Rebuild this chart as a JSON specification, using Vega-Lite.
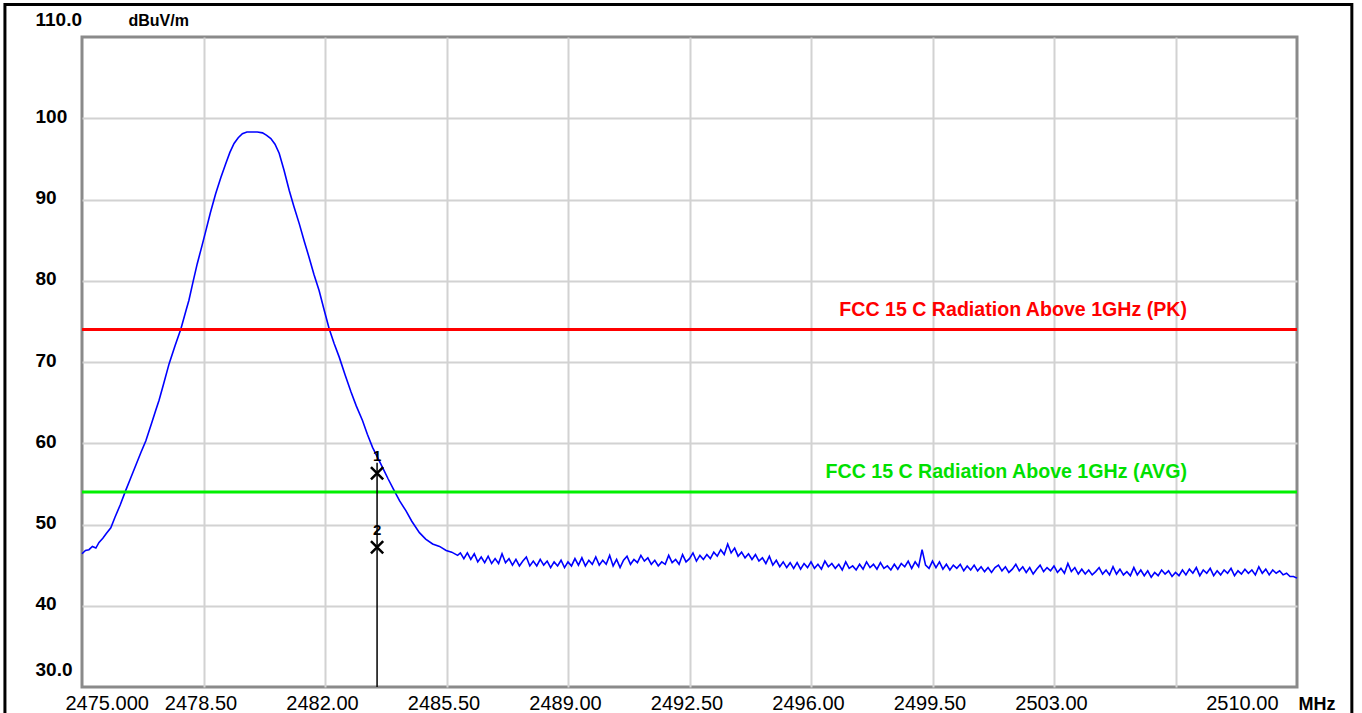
{
  "$schema": "https://vega.github.io/schema/vega-lite/v6.json",
  "autosize": {"type": "none"},
  "width": 1215,
  "height": 650,
  "padding": {"left": 82, "top": 37, "right": 65, "bottom": 26},
  "background": "white",
  "config": {"view": {"stroke": "#8a8a8a", "strokeWidth": 3}, "font": "Liberation Sans"},
  "encoding": {
    "x": {
      "field": "f", "type": "quantitative",
      "scale": {"domain": [2475, 2510], "nice": false, "zero": false},
      "axis": {
        "values": [2475, 2478.5, 2482, 2485.5, 2489, 2492.5, 2496, 2499.5, 2503, 2506.5, 2510],
        "labelExpr": "datum.value == 2475 ? '2475.000' : (datum.value == 2506.5 ? '' : format(datum.value, '.2f'))",
        "grid": true, "gridColor": "#d2d2d2", "gridWidth": 2,
        "gridOpacity": {"condition": {"test": "datum.value == 2475 || datum.value == 2510", "value": 0}, "value": 1},
        "domain": false, "ticks": false,
        "labelFlush": true, "labelFlushOffset": -16,
        "labelOffset": {"condition": {"test": "datum.value == 2475", "value": -33}, "value": -3},
        "labelOverlap": false, "labelBound": false,
        "labelFont": "Liberation Sans", "labelFontSize": 20, "labelColor": "black",
        "labelBaseline": "alphabetic", "labelPadding": 22,
        "title": "MHz", "titleFont": "Liberation Sans", "titleFontSize": 18, "titleFontWeight": "bold", "titleColor": "black",
        "titleAlign": "left", "titleBaseline": "alphabetic", "titleX": 1216, "titleY": 22, "titleAngle": 0
      }
    },
    "y": {
      "field": "v", "type": "quantitative",
      "scale": {"domain": [30, 110], "nice": false, "zero": false},
      "axis": {
        "values": [30, 40, 50, 60, 70, 80, 90, 100, 110],
        "labelExpr": "(datum.value == 30 || datum.value == 110) ? format(datum.value, '.1f') : format(datum.value, 'd')",
        "grid": true, "gridColor": "#d2d2d2", "gridWidth": 2,
        "gridOpacity": {"condition": {"test": "datum.value == 30 || datum.value == 110", "value": 0}, "value": 1},
        "domain": false, "ticks": false,
        "labelAlign": "left", "labelPadding": 47,
        "labelBaseline": {"condition": {"test": "datum.value == 30 || datum.value == 110", "value": "alphabetic"}, "value": "middle"},
        "labelOffset": {"condition": {"test": "datum.value == 30 || datum.value == 110", "value": -12}, "value": -2},
        "labelOverlap": false, "labelBound": false,
        "labelFont": "Liberation Sans", "labelFontSize": 19, "labelFontWeight": "bold", "labelColor": "black",
        "title": "dBuV/m", "titleFont": "Liberation Sans", "titleFontSize": 16, "titleFontWeight": "bold", "titleColor": "black",
        "titleAngle": 0, "titleAlign": "left", "titleBaseline": "alphabetic", "titleX": 46, "titleY": -12
      }
    }
  },
  "layer": [
    {
      "data": {"values": [{"f": 2472.78, "f2": 2511.58, "v": 114.0, "v2": 20}]},
      "mark": {"type": "rect", "fill": "white", "fillOpacity": 0, "stroke": "black", "strokeWidth": 3},
      "encoding": {"x2": {"field": "f2"}, "y2": {"field": "v2"}}
    },
    {
      "data": {"values": [
        {"f": 2475.0, "v": 46.4}, {"f": 2475.1, "v": 46.8}, {"f": 2475.2, "v": 46.9}, {"f": 2475.3, "v": 47.3}, {"f": 2475.4, "v": 47.1},
        {"f": 2475.49, "v": 47.8}, {"f": 2475.6, "v": 48.3}, {"f": 2475.7, "v": 48.9}, {"f": 2475.83, "v": 49.6}, {"f": 2475.95, "v": 50.9},
        {"f": 2476.1, "v": 52.4}, {"f": 2476.26, "v": 54.2}, {"f": 2476.4, "v": 55.7}, {"f": 2476.55, "v": 57.3}, {"f": 2476.7, "v": 58.9},
        {"f": 2476.84, "v": 60.3}, {"f": 2477.0, "v": 62.4}, {"f": 2477.12, "v": 64.0}, {"f": 2477.22, "v": 65.3}, {"f": 2477.35, "v": 67.3},
        {"f": 2477.51, "v": 69.8}, {"f": 2477.68, "v": 72.0}, {"f": 2477.85, "v": 74.1}, {"f": 2478.0, "v": 76.4}, {"f": 2478.08, "v": 77.6},
        {"f": 2478.2, "v": 79.9}, {"f": 2478.32, "v": 82.1}, {"f": 2478.45, "v": 84.2}, {"f": 2478.57, "v": 86.2}, {"f": 2478.7, "v": 88.4},
        {"f": 2478.85, "v": 90.7}, {"f": 2479.0, "v": 92.7}, {"f": 2479.14, "v": 94.4}, {"f": 2479.26, "v": 95.8}, {"f": 2479.38, "v": 96.9},
        {"f": 2479.5, "v": 97.6}, {"f": 2479.62, "v": 98.1}, {"f": 2479.75, "v": 98.3}, {"f": 2479.91, "v": 98.3}, {"f": 2480.05, "v": 98.3},
        {"f": 2480.2, "v": 98.2}, {"f": 2480.32, "v": 97.9}, {"f": 2480.44, "v": 97.5}, {"f": 2480.56, "v": 96.8}, {"f": 2480.68, "v": 95.7},
        {"f": 2480.82, "v": 93.6}, {"f": 2480.97, "v": 91.1}, {"f": 2481.1, "v": 89.2}, {"f": 2481.26, "v": 87.0}, {"f": 2481.4, "v": 84.9},
        {"f": 2481.54, "v": 82.9}, {"f": 2481.68, "v": 80.8}, {"f": 2481.83, "v": 78.8}, {"f": 2481.97, "v": 76.5}, {"f": 2482.12, "v": 74.1},
        {"f": 2482.26, "v": 72.3}, {"f": 2482.41, "v": 70.6}, {"f": 2482.58, "v": 68.4}, {"f": 2482.75, "v": 66.3}, {"f": 2482.9, "v": 64.6},
        {"f": 2483.08, "v": 62.8}, {"f": 2483.22, "v": 61.1}, {"f": 2483.37, "v": 59.5}, {"f": 2483.52, "v": 58.2}, {"f": 2483.66, "v": 57.0},
        {"f": 2483.82, "v": 55.6}, {"f": 2483.99, "v": 54.2}, {"f": 2484.15, "v": 52.9}, {"f": 2484.33, "v": 51.7}, {"f": 2484.5, "v": 50.4},
        {"f": 2484.72, "v": 49.0}, {"f": 2484.9, "v": 48.2}, {"f": 2485.1, "v": 47.6}, {"f": 2485.3, "v": 47.3}, {"f": 2485.49, "v": 46.8},
        {"f": 2485.65, "v": 46.6}, {"f": 2485.82, "v": 46.2},
        {"f": 2485.9, "v": 46.5}, {"f": 2486.0, "v": 45.8}, {"f": 2486.1, "v": 46.5}, {"f": 2486.2, "v": 45.7}, {"f": 2486.3, "v": 46.4},
        {"f": 2486.4, "v": 45.4}, {"f": 2486.5, "v": 46.0}, {"f": 2486.6, "v": 45.3}, {"f": 2486.7, "v": 46.1}, {"f": 2486.8, "v": 45.2},
        {"f": 2486.9, "v": 45.8}, {"f": 2487.0, "v": 45.2}, {"f": 2487.1, "v": 46.4}, {"f": 2487.2, "v": 45.3}, {"f": 2487.3, "v": 45.8},
        {"f": 2487.4, "v": 45.0}, {"f": 2487.5, "v": 45.7}, {"f": 2487.6, "v": 44.9}, {"f": 2487.7, "v": 45.5}, {"f": 2487.8, "v": 46.0},
        {"f": 2487.9, "v": 44.9}, {"f": 2488.0, "v": 45.5}, {"f": 2488.1, "v": 44.9}, {"f": 2488.2, "v": 45.7}, {"f": 2488.3, "v": 45.0},
        {"f": 2488.4, "v": 45.5}, {"f": 2488.5, "v": 44.7}, {"f": 2488.6, "v": 45.4}, {"f": 2488.7, "v": 44.9}, {"f": 2488.8, "v": 45.6},
        {"f": 2488.9, "v": 44.7}, {"f": 2489.0, "v": 45.4}, {"f": 2489.1, "v": 44.9}, {"f": 2489.2, "v": 45.8}, {"f": 2489.3, "v": 45.0},
        {"f": 2489.4, "v": 45.9}, {"f": 2489.5, "v": 44.9}, {"f": 2489.6, "v": 45.6}, {"f": 2489.7, "v": 45.1}, {"f": 2489.8, "v": 46.0},
        {"f": 2489.9, "v": 45.0}, {"f": 2490.0, "v": 45.6}, {"f": 2490.1, "v": 45.1}, {"f": 2490.2, "v": 46.2}, {"f": 2490.3, "v": 44.9},
        {"f": 2490.4, "v": 45.7}, {"f": 2490.5, "v": 44.7}, {"f": 2490.6, "v": 45.6}, {"f": 2490.7, "v": 46.1}, {"f": 2490.8, "v": 45.1},
        {"f": 2490.9, "v": 45.7}, {"f": 2491.0, "v": 45.3}, {"f": 2491.1, "v": 46.2}, {"f": 2491.2, "v": 45.5}, {"f": 2491.3, "v": 45.9},
        {"f": 2491.4, "v": 45.1}, {"f": 2491.5, "v": 45.6}, {"f": 2491.6, "v": 44.9}, {"f": 2491.7, "v": 45.4}, {"f": 2491.8, "v": 45.1},
        {"f": 2491.9, "v": 46.2}, {"f": 2492.0, "v": 45.3}, {"f": 2492.1, "v": 45.7}, {"f": 2492.2, "v": 45.1}, {"f": 2492.3, "v": 46.3},
        {"f": 2492.4, "v": 45.4}, {"f": 2492.5, "v": 45.8}, {"f": 2492.6, "v": 46.5}, {"f": 2492.7, "v": 45.5}, {"f": 2492.8, "v": 46.2},
        {"f": 2492.9, "v": 45.7}, {"f": 2493.0, "v": 46.3}, {"f": 2493.1, "v": 45.8}, {"f": 2493.2, "v": 46.6}, {"f": 2493.3, "v": 46.1},
        {"f": 2493.4, "v": 46.9}, {"f": 2493.5, "v": 46.3}, {"f": 2493.6, "v": 47.6}, {"f": 2493.7, "v": 46.5}, {"f": 2493.8, "v": 47.1},
        {"f": 2493.9, "v": 46.1}, {"f": 2494.0, "v": 46.6}, {"f": 2494.1, "v": 45.9}, {"f": 2494.2, "v": 46.4}, {"f": 2494.3, "v": 45.7},
        {"f": 2494.4, "v": 46.3}, {"f": 2494.5, "v": 45.5}, {"f": 2494.6, "v": 45.9}, {"f": 2494.7, "v": 45.2}, {"f": 2494.8, "v": 46.1},
        {"f": 2494.9, "v": 45.0}, {"f": 2495.0, "v": 45.6}, {"f": 2495.1, "v": 44.8}, {"f": 2495.2, "v": 45.4}, {"f": 2495.3, "v": 44.7},
        {"f": 2495.4, "v": 45.3}, {"f": 2495.5, "v": 44.6}, {"f": 2495.6, "v": 45.3}, {"f": 2495.7, "v": 44.5}, {"f": 2495.8, "v": 45.2},
        {"f": 2495.9, "v": 44.7}, {"f": 2496.0, "v": 45.4}, {"f": 2496.1, "v": 44.6}, {"f": 2496.2, "v": 45.1}, {"f": 2496.3, "v": 44.5},
        {"f": 2496.4, "v": 45.5}, {"f": 2496.5, "v": 44.8}, {"f": 2496.6, "v": 45.2}, {"f": 2496.7, "v": 44.6}, {"f": 2496.8, "v": 45.1},
        {"f": 2496.9, "v": 44.4}, {"f": 2497.0, "v": 45.4}, {"f": 2497.1, "v": 44.6}, {"f": 2497.2, "v": 44.9}, {"f": 2497.3, "v": 44.4},
        {"f": 2497.4, "v": 45.1}, {"f": 2497.5, "v": 44.5}, {"f": 2497.6, "v": 45.4}, {"f": 2497.7, "v": 44.7}, {"f": 2497.8, "v": 45.1},
        {"f": 2497.9, "v": 44.5}, {"f": 2498.0, "v": 45.3}, {"f": 2498.1, "v": 44.6}, {"f": 2498.2, "v": 44.9}, {"f": 2498.3, "v": 44.4},
        {"f": 2498.4, "v": 45.1}, {"f": 2498.5, "v": 44.5}, {"f": 2498.6, "v": 45.2}, {"f": 2498.7, "v": 44.8}, {"f": 2498.8, "v": 45.5},
        {"f": 2498.9, "v": 44.6}, {"f": 2499.0, "v": 45.4}, {"f": 2499.1, "v": 44.8}, {"f": 2499.2, "v": 46.9}, {"f": 2499.3, "v": 45.0},
        {"f": 2499.4, "v": 44.6}, {"f": 2499.5, "v": 45.5}, {"f": 2499.6, "v": 44.7}, {"f": 2499.7, "v": 45.4}, {"f": 2499.8, "v": 44.5},
        {"f": 2499.9, "v": 45.1}, {"f": 2500.0, "v": 44.4}, {"f": 2500.1, "v": 45.0}, {"f": 2500.2, "v": 44.6}, {"f": 2500.3, "v": 45.1},
        {"f": 2500.4, "v": 44.3}, {"f": 2500.5, "v": 44.9}, {"f": 2500.6, "v": 44.4}, {"f": 2500.7, "v": 45.0}, {"f": 2500.8, "v": 44.3},
        {"f": 2500.9, "v": 44.8}, {"f": 2501.0, "v": 44.2}, {"f": 2501.1, "v": 44.7}, {"f": 2501.2, "v": 44.1}, {"f": 2501.3, "v": 44.7},
        {"f": 2501.4, "v": 45.0}, {"f": 2501.5, "v": 44.3}, {"f": 2501.6, "v": 44.8}, {"f": 2501.7, "v": 44.1}, {"f": 2501.8, "v": 44.5},
        {"f": 2501.9, "v": 45.1}, {"f": 2502.0, "v": 44.3}, {"f": 2502.1, "v": 44.8}, {"f": 2502.2, "v": 44.1}, {"f": 2502.3, "v": 44.7},
        {"f": 2502.4, "v": 43.9}, {"f": 2502.5, "v": 44.5}, {"f": 2502.6, "v": 45.0}, {"f": 2502.7, "v": 44.2}, {"f": 2502.8, "v": 44.7},
        {"f": 2502.9, "v": 44.3}, {"f": 2503.0, "v": 44.9}, {"f": 2503.1, "v": 44.1}, {"f": 2503.2, "v": 44.6}, {"f": 2503.3, "v": 44.0},
        {"f": 2503.4, "v": 45.2}, {"f": 2503.5, "v": 44.2}, {"f": 2503.6, "v": 44.7}, {"f": 2503.7, "v": 43.9}, {"f": 2503.8, "v": 44.5},
        {"f": 2503.9, "v": 43.9}, {"f": 2504.0, "v": 44.4}, {"f": 2504.1, "v": 43.8}, {"f": 2504.2, "v": 44.2}, {"f": 2504.3, "v": 44.7},
        {"f": 2504.4, "v": 43.9}, {"f": 2504.5, "v": 44.4}, {"f": 2504.6, "v": 43.8}, {"f": 2504.7, "v": 44.8}, {"f": 2504.8, "v": 43.9},
        {"f": 2504.9, "v": 44.5}, {"f": 2505.0, "v": 43.8}, {"f": 2505.1, "v": 44.2}, {"f": 2505.2, "v": 43.7}, {"f": 2505.3, "v": 44.7},
        {"f": 2505.4, "v": 43.8}, {"f": 2505.5, "v": 44.4}, {"f": 2505.6, "v": 43.7}, {"f": 2505.7, "v": 44.3}, {"f": 2505.8, "v": 43.5},
        {"f": 2505.9, "v": 44.1}, {"f": 2506.0, "v": 43.7}, {"f": 2506.1, "v": 44.4}, {"f": 2506.2, "v": 43.9}, {"f": 2506.3, "v": 44.3},
        {"f": 2506.4, "v": 43.6}, {"f": 2506.5, "v": 44.1}, {"f": 2506.6, "v": 43.7}, {"f": 2506.7, "v": 44.4}, {"f": 2506.8, "v": 43.8},
        {"f": 2506.9, "v": 44.5}, {"f": 2507.0, "v": 44.0}, {"f": 2507.1, "v": 44.7}, {"f": 2507.2, "v": 43.7}, {"f": 2507.3, "v": 44.4},
        {"f": 2507.4, "v": 44.0}, {"f": 2507.5, "v": 44.6}, {"f": 2507.6, "v": 43.7}, {"f": 2507.7, "v": 44.3}, {"f": 2507.8, "v": 43.8},
        {"f": 2507.9, "v": 44.4}, {"f": 2508.0, "v": 44.0}, {"f": 2508.1, "v": 44.6}, {"f": 2508.2, "v": 43.7}, {"f": 2508.3, "v": 44.3},
        {"f": 2508.4, "v": 43.9}, {"f": 2508.5, "v": 44.5}, {"f": 2508.6, "v": 44.0}, {"f": 2508.7, "v": 44.4}, {"f": 2508.8, "v": 43.8},
        {"f": 2508.9, "v": 44.8}, {"f": 2509.0, "v": 44.0}, {"f": 2509.1, "v": 44.5}, {"f": 2509.2, "v": 43.8}, {"f": 2509.3, "v": 44.4},
        {"f": 2509.4, "v": 44.0}, {"f": 2509.5, "v": 44.3}, {"f": 2509.6, "v": 43.8}, {"f": 2509.7, "v": 44.0}, {"f": 2509.8, "v": 43.6},
        {"f": 2509.9, "v": 43.6}, {"f": 2510.0, "v": 43.4}
      ]},
      "mark": {"type": "line", "color": "#0000ff", "strokeWidth": 1.6}
    },
    {
      "data": {"values": [{"f": 2475, "f2": 2510, "v": 74}]},
      "mark": {"type": "rule", "color": "#ff0000", "strokeWidth": 3},
      "encoding": {"x2": {"field": "f2"}}
    },
    {
      "data": {"values": [{"f": 2475, "f2": 2510, "v": 54}]},
      "mark": {"type": "rule", "color": "#00f000", "strokeWidth": 3},
      "encoding": {"x2": {"field": "f2"}}
    },
    {
      "data": {"values": [{"f": 2506.83, "v": 74, "label": "FCC 15 C Radiation Above 1GHz (PK)"}]},
      "mark": {"type": "text", "color": "#ff0000", "align": "right", "baseline": "alphabetic", "dy": -14, "font": "Liberation Sans", "fontSize": 19.6, "fontWeight": "bold"},
      "encoding": {"text": {"field": "label"}}
    },
    {
      "data": {"values": [{"f": 2506.83, "v": 54, "label": "FCC 15 C Radiation Above 1GHz (AVG)"}]},
      "mark": {"type": "text", "color": "#00e000", "align": "right", "baseline": "alphabetic", "dy": -14, "font": "Liberation Sans", "fontSize": 19.6, "fontWeight": "bold"},
      "encoding": {"text": {"field": "label"}}
    },
    {
      "data": {"values": [{"f": 2483.5, "v": 30, "v2": 57.6}]},
      "mark": {"type": "rule", "color": "black", "strokeWidth": 1.5},
      "encoding": {"y2": {"field": "v2"}}
    },
    {
      "data": {"values": [{"f": 2483.5, "v": 56.3, "n": "1"}, {"f": 2483.5, "v": 47.2, "n": "2"}]},
      "mark": {"type": "point", "shape": "M-1,-1L1,1M-1,1L1,-1", "size": 150, "filled": false, "stroke": "black", "strokeWidth": 2.5, "opacity": 1}
    },
    {
      "data": {"values": [{"f": 2483.5, "v": 56.3, "n": "1"}, {"f": 2483.5, "v": 47.2, "n": "2"}]},
      "mark": {"type": "text", "color": "black", "align": "center", "baseline": "middle", "dy": -17, "font": "Liberation Sans", "fontSize": 15, "fontWeight": "bold"},
      "encoding": {"text": {"field": "n"}}
    }
  ]
}
